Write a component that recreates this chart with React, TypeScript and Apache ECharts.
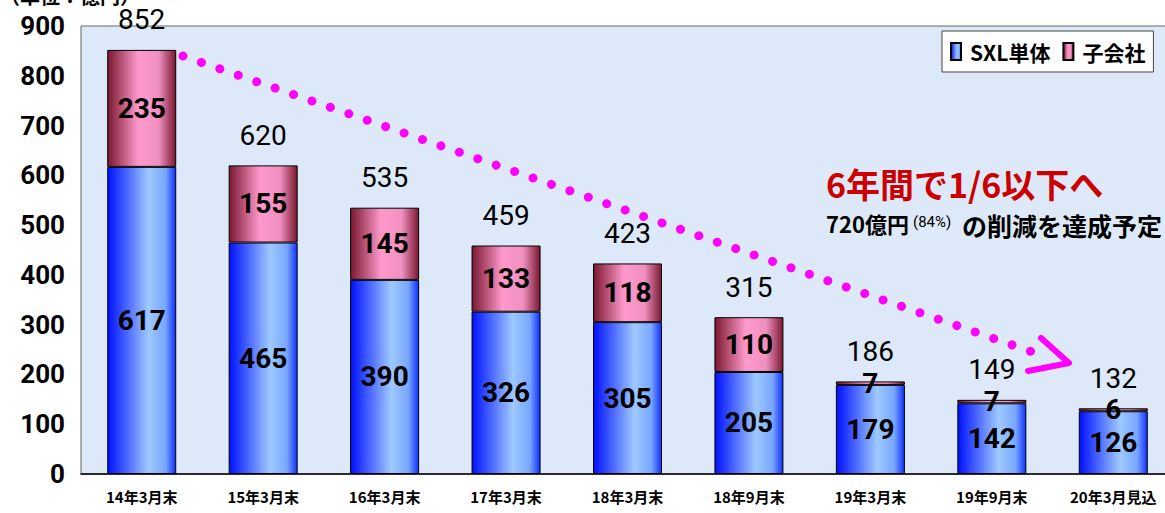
import React, { useEffect, useRef } from "react";
import * as echarts from "echarts";

const categories = ["14年3月末", "15年3月末", "16年3月末", "17年3月末", "18年3月末", "18年9月末", "19年3月末", "19年9月末", "20年3月見込"];
const sxlValues = [617, 465, 390, 326, 305, 205, 179, 142, 126];
const subValues = [235, 155, 145, 133, 118, 110, 7, 7, 6];
const totals = [852, 620, 535, 459, 423, 315, 186, 149, 132];
const yTicks = [0, 100, 200, 300, 400, 500, 600, 700, 800, 900];

const FONT = 'Roboto, "Liberation Sans", sans-serif';
const JFONT = '"Noto Sans CJK JP", Roboto, sans-serif';

export default function App() {
  const ref = useRef<HTMLDivElement>(null);
  useEffect(() => {
    document.body.style.margin = "0";
    document.body.style.overflow = "hidden";
    const chart = echarts.init(ref.current!, null, { renderer: "svg" });
    const blue = new echarts.graphic.LinearGradient(0, 0, 1, 0, [
      { offset: 0, color: "#0010ff" },
      { offset: 0.6, color: "#9ec9ff" },
      { offset: 0.85, color: "#78a6ff" },
      { offset: 1, color: "#1030ff" },
    ]);
    const pink = new echarts.graphic.LinearGradient(0, 0, 1, 0, [
      { offset: 0, color: "#7a1830" },
      { offset: 0.45, color: "#ff99cc" },
      { offset: 0.75, color: "#f090c0" },
      { offset: 1, color: "#7a1830" },
    ]);
    chart.setOption({
      animation: false,
      backgroundColor: "#ffffff",
      grid: {
        left: 81,
        right: 1,
        top: 26,
        bottom: 39,
        show: true,
        backgroundColor: "#dde9f8",
        borderColor: "#666",
        borderWidth: 1,
      },
      legend: {
        left: 942,
        top: 31,
        itemGap: 12,
        itemWidth: 10,
        itemHeight: 17,
        backgroundColor: "#ffffff",
        borderColor: "#444",
        borderWidth: 1,
        padding: [10, 8, 10, 8],
        data: [
          { name: "SXL単体", icon: "rect" },
          { name: "子会社", icon: "rect" },
        ],
        textStyle: { fontFamily: JFONT, fontSize: 21, fontWeight: "bold", color: "#000", padding: [0, 0, 0, 4] },
      },
      xAxis: {
        type: "category",
        data: categories,
        axisLine: { lineStyle: { color: "#000", width: 1.5 } },
        axisTick: { inside: true, length: 5, lineStyle: { color: "#000" } },
        axisLabel: { margin: 15, fontFamily: JFONT, fontSize: 15, fontWeight: "bold", color: "#000" },
      },
      yAxis: {
        type: "value",
        min: 0,
        max: 900,
        interval: 100,
        splitLine: { show: false },
        axisLine: { show: false },
        axisTick: { show: false },
        axisLabel: {
          margin: 16,
          fontFamily: FONT,
          fontSize: 26,
          fontWeight: "bold",
          color: "#000",
          formatter: (v: number) => (yTicks.includes(v) ? String(v) : ""),
        },
      },
      series: [
        {
          name: "SXL単体",
          type: "bar",
          stack: "a",
          barWidth: 69,
          data: sxlValues,
          itemStyle: { color: blue, borderColor: "#000", borderWidth: 1 },
          label: { show: true, position: "inside", fontFamily: FONT, fontSize: 28, fontWeight: "bold", color: "#000" },
        },
        {
          name: "子会社",
          type: "bar",
          stack: "a",
          barWidth: 69,
          data: subValues,
          itemStyle: { color: pink, borderColor: "#000", borderWidth: 1 },
          label: { show: true, position: "inside", fontFamily: FONT, fontSize: 28, fontWeight: "bold", color: "#000" },
        },
        {
          name: "total",
          type: "bar",
          stack: "a",
          barWidth: 69,
          data: totals.map(() => 0),
          itemStyle: { color: "transparent" },
          label: {
            show: true,
            position: "top",
            distance: 16,
            fontFamily: FONT,
            fontSize: 28,
            color: "#000",
            formatter: (p: any) => String(totals[p.dataIndex]),
          },
        },
      ],
      graphic: [
        {
          type: "text",
          left: 0,
          top: -15,
          style: { text: "（単位：億円）", font: `bold 20px ${JFONT}`, fill: "#000", lineHeight: 16 },
        },
        {
          type: "line",
          shape: { x1: 183, y1: 56, x2: 1044, y2: 356 },
          style: { stroke: "#ff00ff", lineWidth: 9, lineDash: [0.01, 19.5], lineCap: "round" },
        },
        {
          type: "polyline",
          shape: { points: [[1041, 338], [1069, 363], [1028, 371]] },
          style: { stroke: "#ff00ff", fill: "none", lineWidth: 6, lineCap: "round", lineJoin: "round" },
        },
        {
          type: "text",
          left: 826,
          top: 166,
          style: { text: "6年間で1/6以下へ", font: `bold 34px ${JFONT}`, fill: "#cc0000", lineHeight: 30 },
        },
        {
          type: "text",
          left: 826,
          top: 212,
          style: { text: "720億円", font: `bold 22px ${JFONT}`, fill: "#000", lineHeight: 20 },
        },
        {
          type: "text",
          left: 913,
          top: 214,
          style: { text: "(84%)", font: `15px ${FONT}`, fill: "#000", lineHeight: 16 },
        },
        {
          type: "text",
          left: 962,
          top: 212,
          style: { text: "の削減を達成予定", font: `bold 25px ${JFONT}`, fill: "#000", lineHeight: 20 },
        },
      ],
    });
    return () => chart.dispose();
  }, []);
  return <div ref={ref} style={{ width: 1175, height: 513 }} />;
}
